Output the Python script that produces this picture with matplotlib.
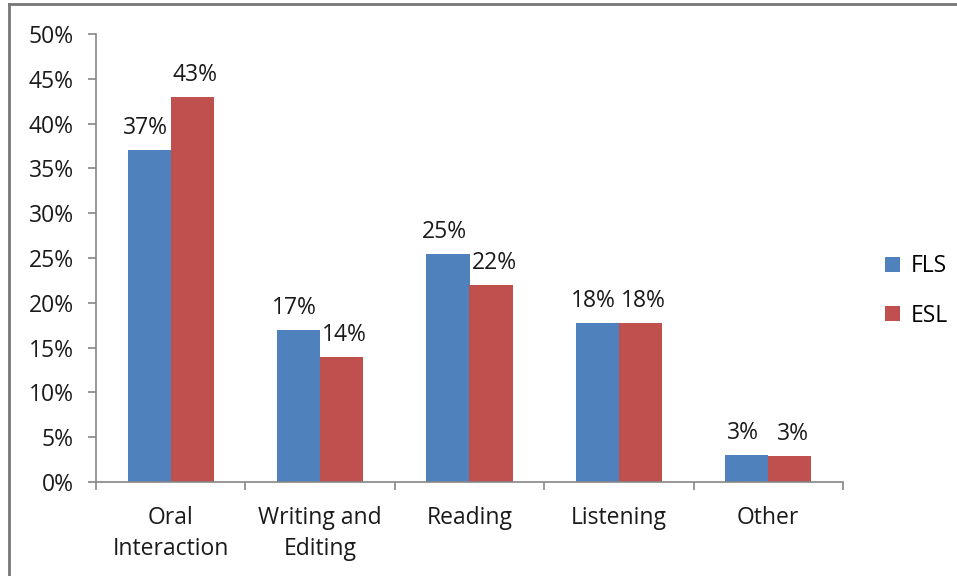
import matplotlib
matplotlib.use('Agg')
import numpy as np
from matplotlib import pyplot as plt
from matplotlib.lines import Line2D

categories = ['Oral\nInteraction', 'Writing and\nEditing', 'Reading', 'Listening', 'Other']
fls = [37.0, 17.0, 25.4, 17.7, 3.0]
esl = [43.0, 13.9, 22.0, 17.7, 2.85]
fls_labels = ['37%', '17%', '25%', '18%', '3%']
esl_labels = ['43%', '14%', '22%', '18%', '3%']

plt.rcParams['font.family'] = ['Open Sans', 'DejaVu Sans']
blue = '#4f81bd'
red = '#c0504d'
grey = '#868686'
fs = 16.5

fig = plt.figure(figsize=(9.57, 5.76), dpi=100)
ax = fig.add_axes([96 / 957, (576 - 482) / 576, (843 - 96) / 957, (482 - 34) / 576])

x = np.arange(len(categories))
w = 0.288
b1 = ax.bar(x - w / 2, fls, w, color=blue, label='FLS')
b2 = ax.bar(x + w / 2, esl, w, color=red, label='ESL')

# excel nudges the labels apart a little
for bars, labels, nudge in ((b1, fls_labels, -4), (b2, esl_labels, 3)):
	for bar, lab in zip(bars, labels):
		ax.annotate(lab, (bar.get_x() + bar.get_width() / 2, bar.get_height()),
					xytext=(nudge, 10), textcoords='offset pixels',
					ha='center', va='bottom', fontsize=fs, color='#1a1a1a')

ax.set_xlim(-0.5, len(categories) - 0.5)
ax.set_ylim(0, 50)
ax.set_yticks(range(0, 51, 5))
ax.set_yticklabels([f'{v}%' for v in range(0, 51, 5)], fontsize=fs, color='#1a1a1a')
ax.set_xticks(x)
ax.set_xticklabels(categories, fontsize=fs, linespacing=1.4, color='#1a1a1a')
ax.tick_params(axis='x', length=0, pad=17)
ax.set_xticks(np.arange(-0.5, len(categories)), minor=True)
ax.tick_params(axis='x', which='minor', length=6, color=grey, width=1.2)
ax.tick_params(axis='y', length=6, color=grey, width=1.2, pad=10)

for s in ['top', 'right']:
	ax.spines[s].set_visible(False)
for s in ['left', 'bottom']:
	ax.spines[s].set_color(grey)
	ax.spines[s].set_linewidth(1.2)

fig.legend(handles=[b1, b2], labels=['FLS', 'ESL'], loc='center left',
		   bbox_to_anchor=(864 / 957, 1 - 291 / 576), frameon=False, fontsize=fs,
		   handlelength=0.65, handleheight=0.65, labelspacing=1.1, handletextpad=0.5)

# outer border of the original screenshot
fig.add_artist(Line2D([9 / 957, 9 / 957], [0, 1 - 4 / 576], color='#777777', lw=2))
fig.add_artist(Line2D([9 / 957, 1], [1 - 4 / 576, 1 - 4 / 576], color='#777777', lw=2))

fig.savefig('out.png', dpi=100)
